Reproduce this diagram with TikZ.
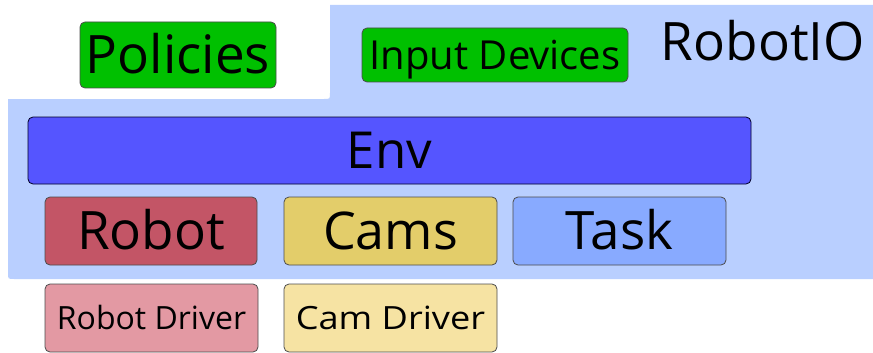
\documentclass[tikz,border=0pt]{standalone}
\usepackage{fontspec}
\setmainfont{Open Sans}
\usepackage{tikz}
\usepackage{color}

\definecolor{ioback}{RGB}{185,207,255}
\definecolor{polgreen}{RGB}{0,192,0}
\definecolor{envblue}{RGB}{85,85,255}
\definecolor{robotred}{RGB}{195,85,102}
\definecolor{camyellow}{RGB}{227,205,106}
\definecolor{taskblue}{RGB}{136,170,255}
\definecolor{drvred}{RGB}{227,153,163}
\definecolor{drvyellow}{RGB}{246,227,163}

\tikzset{
  blk/.style={draw=black!70, rounded corners=5pt, line width=0.8pt, inner sep=0pt},
  bigtxt/.style={font=\fontsize{#1}{60}\selectfont, text height=0.714*#1 pt, text depth=0pt},
  bigtxt/.default=53,
  midtxt/.style={font=\fontsize{40}{44}\selectfont, text height=28.5pt, text depth=0pt},
  smalltxt/.style={font=\fontsize{32}{36}\selectfont, text height=23pt, text depth=0pt}
}

\begin{document}
\begin{tikzpicture}[x=1pt,y=-1pt]
\useasboundingbox (0,0) rectangle (873,353);
\fill[ioback] (8,99) -- (324,99) .. controls (330,99) .. (330,93) -- (330,5) -- (880,5) -- (880,279) -- (14,279) .. controls (8,279) .. (8,273) -- cycle;

\node[blk, bigtxt, fill=polgreen, minimum width=196pt, minimum height=66pt] (policies) at (178,55) {Policies};
\node[blk, midtxt, fill=polgreen, minimum width=266pt, minimum height=54pt] (inputdev) at (495,55) {Input Devices};
\node[font=\fontsize{53}{58}\selectfont, text height=38pt, text depth=0pt, inner sep=0pt] (robotio) at (763,41) {RobotIO};

\node[blk, bigtxt=51, fill=envblue, draw=black!85!blue, minimum width=723pt, minimum height=67pt] (env) at (389.5,150.5) {Env};

\node[blk, bigtxt, fill=robotred, minimum width=212pt, minimum height=68pt] (robot) at (151,231) {Robot};
\node[blk, bigtxt=52, fill=camyellow, minimum width=213pt, minimum height=68pt] (cams) at (390.5,231) {Cams};
\node[blk, bigtxt, fill=taskblue, minimum width=213pt, minimum height=68pt] (task) at (619.5,231) {Task};

\node[blk, smalltxt, fill=drvred, minimum width=213pt, minimum height=68pt] (robotdrv) at (151.5,318) {Robot Driver};
\node[blk, smalltxt, fill=drvyellow, minimum width=213pt, minimum height=68pt] (camdrv) at (390.5,318) {\scalebox{1.13}[1]{Cam Driver}};

\end{tikzpicture}
\end{document}
